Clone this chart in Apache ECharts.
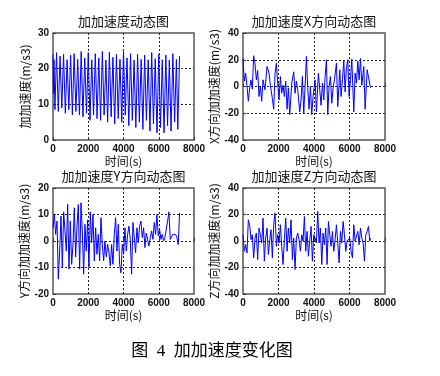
<!DOCTYPE html>
<html>
<head>
<meta charset="utf-8">
<script src="https://cdn.jsdelivr.net/npm/echarts@6/dist/echarts.min.js"></script>
<style>
  html, body { margin: 0; padding: 0; background: #fff; }
  #main { width: 440px; height: 376px; }
</style>
</head>
<body>
<div id="main"></div>
<script>
  // 时间轴刻度
  var timeTicks = [0, 2000, 4000, 6000, 8000];

  // 加加速度（合成）
  var tAll = [0, 25, 55, 110, 200, 300, 400, 500, 600, 700, 800, 900, 1000, 1100, 1200, 1300, 1400, 1500, 1600, 1700,
    1800, 1900, 2000, 2100, 2200, 2300, 2400, 2500, 2600, 2700, 2800, 2900, 3000, 3100, 3200, 3300, 3400, 3500, 3600, 3700,
    3800, 3900, 4000, 4100, 4200, 4300, 4400, 4500, 4600, 4700, 4800, 4900, 5000, 5100, 5200, 5300, 5400, 5500, 5600, 5700,
    5800, 5900, 6000, 6100, 6200, 6300, 6400, 6500, 6600, 6700, 6800, 6900, 7000, 7080, 7180];
  var jerkAll = [24, 13, 22.5, 8.5, 24.5, 8, 23.5, 9, 24, 7.5, 22.5, 8.5, 23.8, 7, 24.2, 8, 22.6, 7, 24.8, 6.5,
    23, 7.5, 24.5, 5.5, 22.5, 7, 24.2, 6, 23, 5.5, 24.8, 7, 22.4, 5, 24.6, 6.5, 23.2, 4.5, 24, 6,
    22.6, 5, 24.8, 7, 23, 4, 24.2, 5.5, 22.4, 3.5, 24, 5, 22.6, 3, 23.8, 5.5, 22.5, 2.5, 24.5, 4.5,
    22.8, 2, 24, 3.5, 22.5, 2, 23.8, 4, 22.4, 2.5, 24.2, 5, 22.6, 3, 23.5];

  // X方向
  var tX = [0, 75, 150, 225, 300, 375, 450, 526, 601, 676, 752, 827, 902, 977, 1053, 1128, 1241, 1354, 1466, 1542,
    1654, 1730, 1805, 1880, 1955, 2030, 2106, 2181, 2256, 2331, 2406, 2482, 2557, 2632, 2745, 2858, 2933, 3008, 3083, 3196,
    3271, 3346, 3422, 3497, 3572, 3647, 3722, 3798, 3873, 3948, 4061, 4136, 4249, 4324, 4399, 4474, 4550, 4625, 4700, 4775,
    4850, 4926, 5001, 5076, 5151, 5264, 5339, 5452, 5527, 5602, 5678, 5753, 5828, 5903, 5978, 6054, 6129, 6242, 6317, 6392,
    6467, 6542, 6618, 6693, 6806, 6881, 6994, 7182];
  var jerkX = [21, 4, 10, 0, -11, -1, 5, -2, 23, 17, 5, 12, -7.5, 0, -11, 5, -2.5, 15, 10, 1,
    -9, -17, 10, 17.5, 2.5, -10, 7.5, -5, 1, -7.5, 4, -17, -1, -21, 2.5, 11, -5, 4, -2.5, -19,
    -10, 7.5, -20, 0, 22.5, -1, -17, 0, -21, -7.5, 5, -19, 10, -2.5, -14, 2.5, -10, 7.5, 20, -21,
    0, 7.5, -12.5, -1, 5, 17.5, -15, 12.5, -7.5, 5, 19, -4, 14, 20, -7.5, 5, 20.5, -19, 10, 2.5,
    19, 5, 21, 1, 15, -17, 12.5, -1];

  // Y方向
  var tY = [0, 76, 151, 227, 302, 378, 454, 529, 605, 680, 756, 832, 907, 983, 1058, 1134, 1210, 1285, 1361, 1436,
    1512, 1588, 1663, 1739, 1814, 1890, 1966, 2041, 2117, 2192, 2268, 2344, 2419, 2495, 2570, 2646, 2722, 2797, 2873, 2948,
    3024, 3100, 3175, 3251, 3326, 3402, 3478, 3553, 3629, 3704, 3780, 3856, 3931, 4007, 4082, 4158, 4234, 4309, 4385, 4460,
    4536, 4612, 4687, 4763, 4838, 4914, 4990, 5065, 5141, 5216, 5292, 5368, 5443, 5519, 5594, 5670, 5746, 5821, 5897, 5972,
    6048, 6124, 6199, 6275, 6350, 6426, 6502, 6577, 6653, 6728, 6804, 6880, 6955, 7031, 7106, 7182];
  var jerkY = [5, 10, 2.5, 7.5, -14.4, -3.8, 9.4, -10, 11, 3.8, -3.8, 13.8, -10.6, 7.5, -8.8, -1.3, 12.5, -6, 5.6, 13.8,
    -10.6, 14.4, 3.8, -12.5, 6.3, -3.8, 8, -10, 11, -0.6, 10, -7.5, 5, -5, 2.5, -7.5, 8.8, -1.3, -7.5, 0,
    -6, -1.3, -4.4, -9.4, -1.3, -8.8, 2.5, 8.8, -3.8, 6.3, -8.8, -12, -1.3, -5, 5, -3.8, 2.5, 5.6, 0.6, -12.5,
    7, 1.3, -4.4, 5, -0.6, 5.6, 7.5, 1.3, 5, -2.5, 3, 0.6, -1.9, 1.3, 3.8, 0.6, 7, 2.5, 10, 1.9,
    4.4, 0.6, 2.5, 0, 1.3, 0.6, 7.5, 11, 0.6, 0, 2.5, 1.9, 2.5, 1.3, -1.3, 10.6];

  // Z方向
  var tZ = [0, 75, 150, 226, 301, 376, 451, 526, 602, 677, 752, 827, 902, 978, 1053, 1128, 1203, 1278, 1354, 1429,
    1504, 1579, 1654, 1730, 1805, 1880, 1955, 2030, 2106, 2181, 2256, 2331, 2406, 2482, 2557, 2632, 2707, 2782, 2858, 2933,
    3008, 3083, 3158, 3234, 3309, 3384, 3459, 3534, 3610, 3685, 3760, 3835, 3910, 3986, 4061, 4136, 4211, 4286, 4362, 4437,
    4512, 4587, 4662, 4738, 4813, 4888, 4963, 5038, 5114, 5189, 5264, 5339, 5414, 5490, 5565, 5640, 5715, 5790, 5866, 5941,
    6016, 6091, 6166, 6242, 6317, 6392, 6467, 6542, 6618, 6693, 6768, 6843, 6918, 6994, 7069, 7144, 7182];
  var jerkZ = [4.75, -7.75, -2.75, -9, 16, 12, 1, 4.75, -12.75, 2.25, 6, -14, 9.75, 4.75, -1.5, 17.25, -15.25, 2.25, 9.75, -10.25,
    0, 8.5, -12.75, 12.25, 21, -4, 4.75, -1.5, 12.25, -4, -17.75, 1, 17.25, -7.75, 9.75, -1.5, 16, -14, 2.25, -21.5,
    2.25, 6, 1, -7.75, 4.75, 0, 18.5, -7.75, 7.25, -11.5, 0, 11, -15.25, 4.75, 2.25, -1.5, 22.25, -1.5, 9.75, -17.75,
    6, -2.75, 9.75, -17.75, 14.75, 4.75, -4, 7.25, -7.75, 1, 12.25, -1.5, -16.5, 7.25, -1.5, 14.75, 4.75, -7.75, 0, -1.5,
    2.25, -7.75, -12.75, 12.25, 0, -1.5, 7.25, -2.75, 9.75, 2.25, -1.5, -15.25, 4.75, 7.25, 11, 0, 2.25];

  function zip(t, v) {
    var out = [];
    for (var i = 0; i < t.length; i++) out.push([t[i], v[i]]);
    return out;
  }

  var panels = [
    { title: '加加速度动态图', yName: '加加速度(m/s3)', t: tAll, v: jerkAll, min: 0, max: 30, step: 10,
      left: 53, top: 33, width: 141, height: 107 },
    { title: '加加速度X方向动态图', yName: 'X方向加加速度(m/s3)', t: tX, v: jerkX, min: -40, max: 40, step: 20,
      left: 243, top: 33, width: 142, height: 107 },
    { title: '加加速度Y方向动态图', yName: 'Y方向加加速度(m/s3)', t: tY, v: jerkY, min: -20, max: 20, step: 10,
      left: 53, top: 188, width: 141, height: 106 },
    { title: '加加速度Z方向动态图', yName: 'Z方向加加速度(m/s3)', t: tZ, v: jerkZ, min: -40, max: 40, step: 20,
      left: 243, top: 188, width: 142, height: 106 }
  ];

  var cjk = '"Noto Sans CJK SC", "Liberation Sans", sans-serif';
  var gridDash = { color: '#222', type: [2, 2], width: 1 };
  var plain = function (v) { return String(v); };

  var grids = [], xAxes = [], yAxes = [], series = [], titles = [];
  panels.forEach(function (p, i) {
    grids.push({ left: p.left, top: p.top, width: p.width, height: p.height,
      show: true, borderColor: '#555', borderWidth: 1.5, backgroundColor: '#fff' });
    xAxes.push({
      gridIndex: i, type: 'value', min: timeTicks[0], max: timeTicks[timeTicks.length - 1], interval: 2000,
      name: '时间(s)', nameLocation: 'middle', nameGap: 15,
      nameTextStyle: { fontFamily: cjk, fontSize: 12, color: '#111' },
      axisLine: { show: false },
      axisTick: { inside: true, length: 3, lineStyle: { color: '#333' } },
      axisLabel: { margin: 4, formatter: plain, fontFamily: 'Liberation Sans', fontWeight: 'bold', fontSize: 10, color: '#111' },
      splitLine: { show: true, showMinLine: false, showMaxLine: false, lineStyle: gridDash }
    });
    yAxes.push({
      gridIndex: i, type: 'value', min: p.min, max: p.max, interval: p.step,
      name: p.yName, nameLocation: 'middle', nameGap: 22, nameRotate: 90,
      nameTextStyle: { fontFamily: cjk, fontSize: 12, color: '#111' },
      axisLine: { show: false },
      axisTick: { inside: true, length: 3, lineStyle: { color: '#333' } },
      axisLabel: { margin: 4, formatter: plain, fontFamily: 'Liberation Sans', fontWeight: 'bold', fontSize: 10, color: '#111' },
      splitLine: { show: true, showMinLine: false, showMaxLine: false, lineStyle: gridDash }
    });
    series.push({
      type: 'line', xAxisIndex: i, yAxisIndex: i, data: zip(p.t, p.v),
      symbol: 'none', lineStyle: { color: '#0000ff', width: 1 }, animation: false
    });
    titles.push({
      text: p.title, left: p.left + p.width / 2, top: p.top - 18, textAlign: 'center', padding: 0,
      textStyle: { fontFamily: cjk, fontSize: 13, fontWeight: 'normal', color: '#111' }
    });
  });

  // 图注
  titles.push({
    text: '图  4  加加速度变化图', left: 212, top: 343, textAlign: 'center', padding: 0,
    textStyle: { fontFamily: '"Liberation Serif", "Noto Sans CJK SC", serif', fontSize: 17, fontWeight: 'normal', color: '#000' }
  });

  var myChart = echarts.init(document.getElementById('main'));
  myChart.setOption({
    animation: false,
    title: titles,
    grid: grids,
    xAxis: xAxes,
    yAxis: yAxes,
    series: series
  });
</script>
</body>
</html>
